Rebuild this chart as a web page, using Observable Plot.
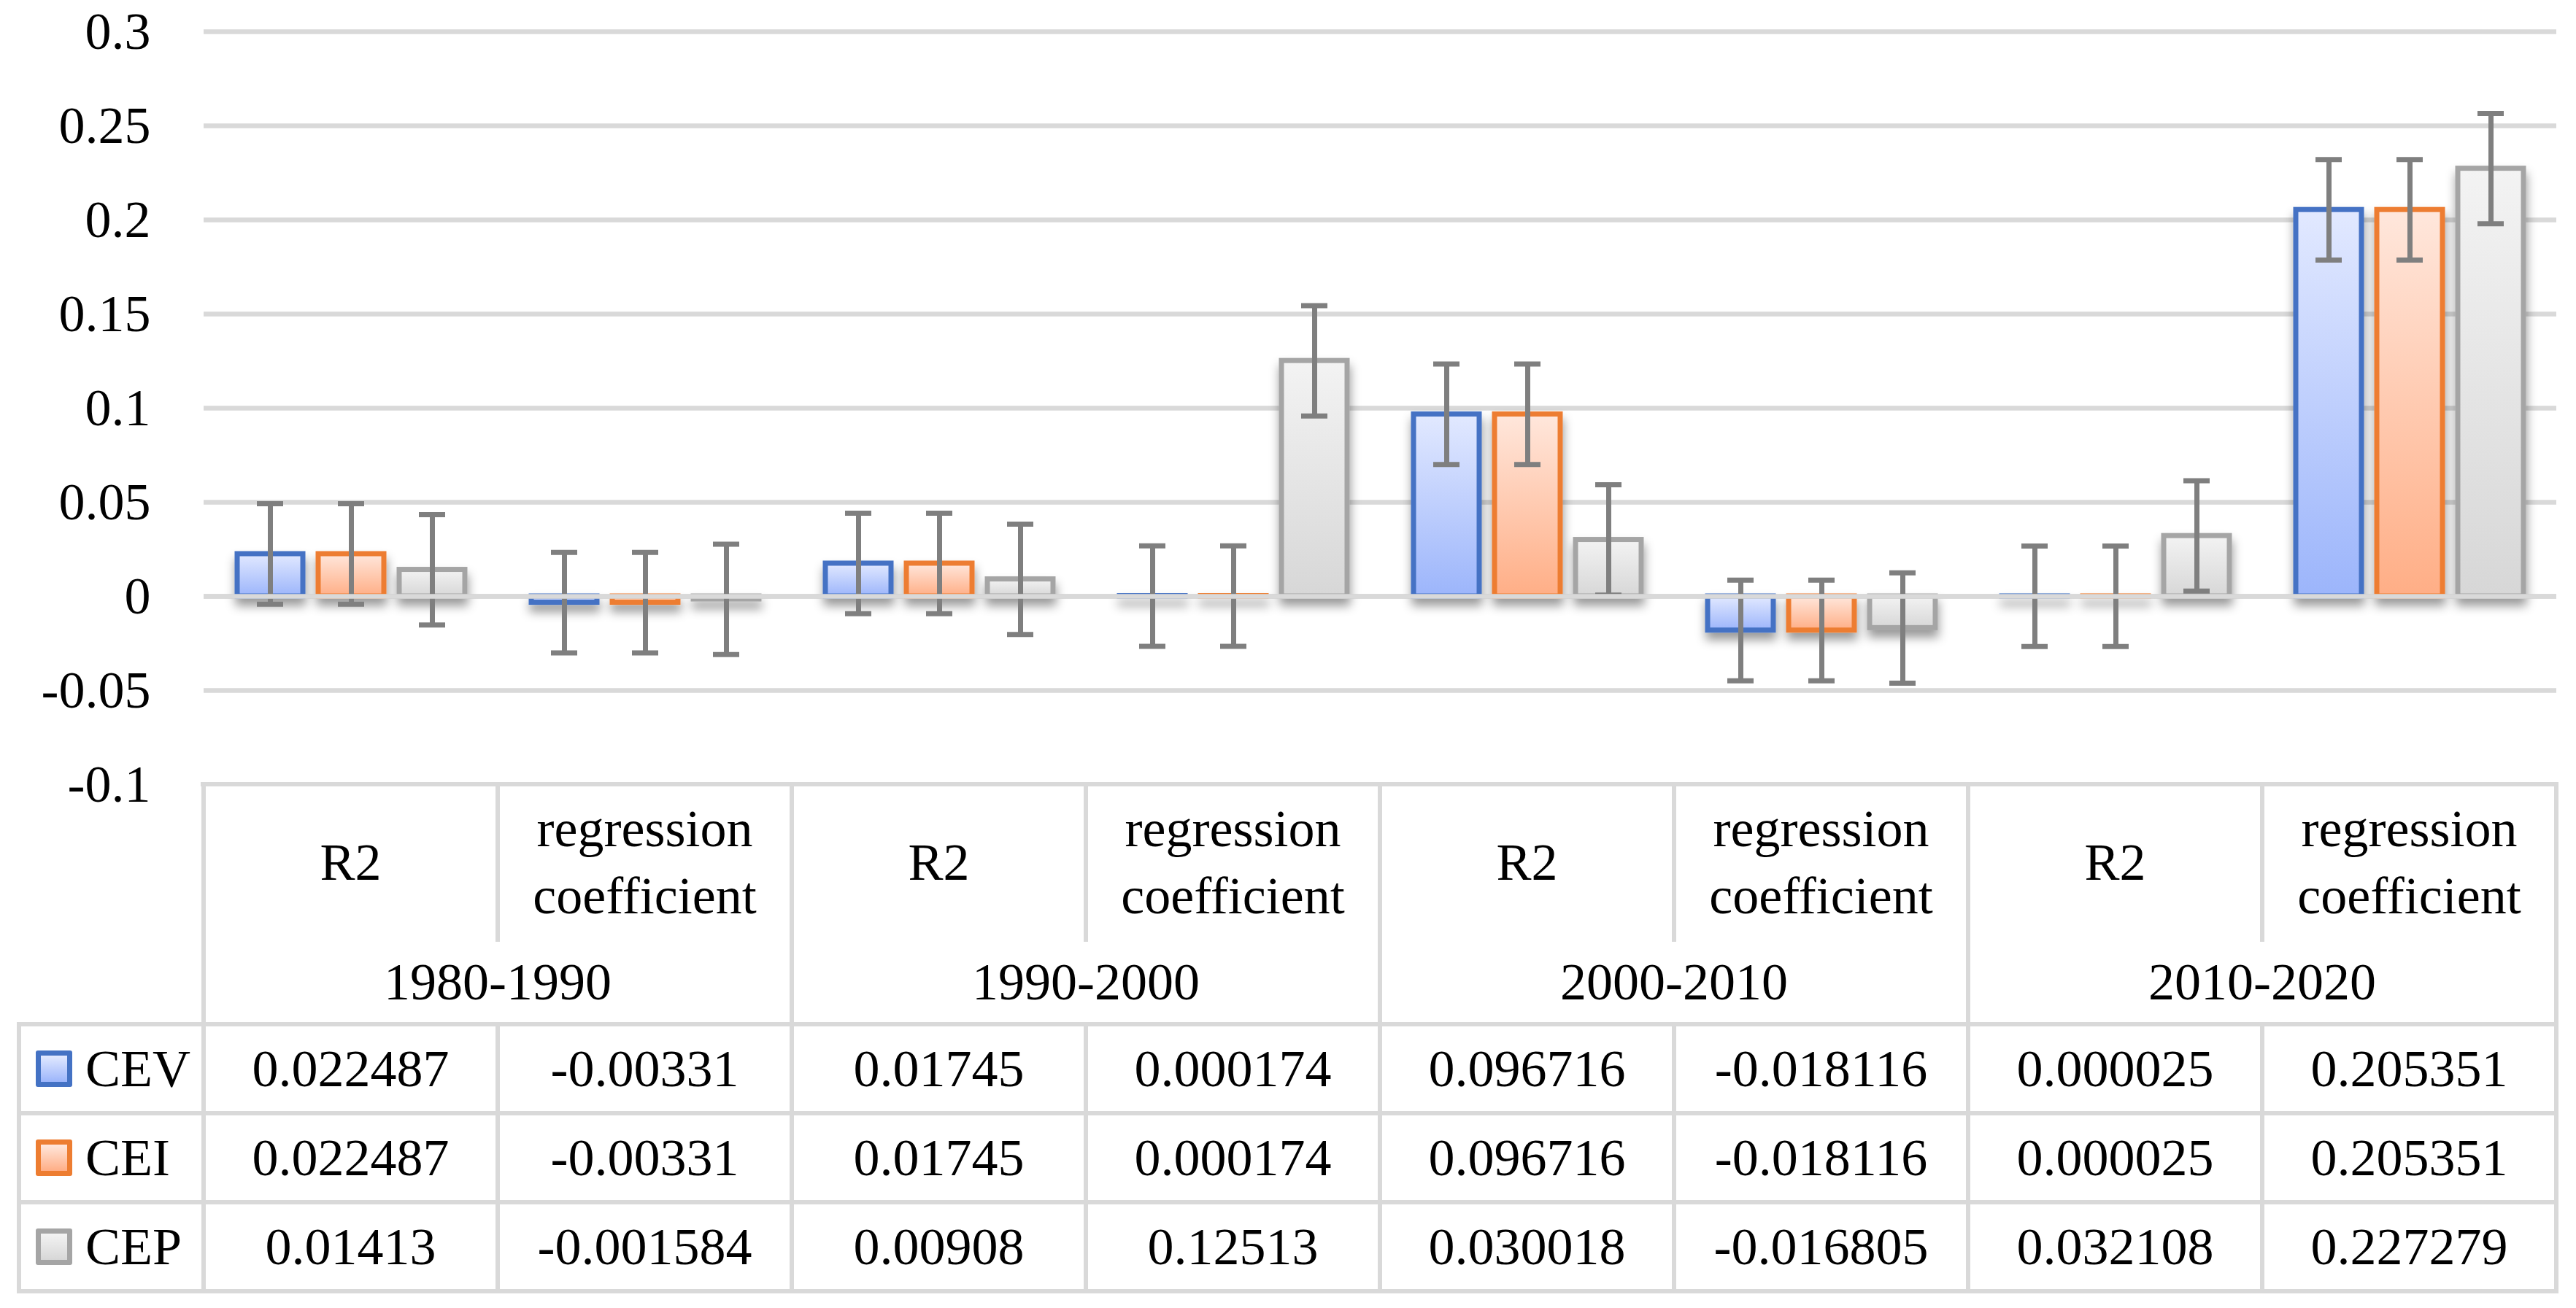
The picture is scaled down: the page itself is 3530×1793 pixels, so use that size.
<!DOCTYPE html>
<html>
<head>
<meta charset="utf-8">
<script src="https://cdn.jsdelivr.net/npm/d3@7"></script>
<script src="https://cdn.jsdelivr.net/npm/@observablehq/plot@0.6"></script>
<style>
  html, body { margin: 0; padding: 0; background: #fff; }
  #wrap { position: relative; width: 3530px; height: 1793px; font-family: "Liberation Serif", "Times New Roman", serif; color: #000; overflow: hidden; }
  #wrap svg.chart { position: absolute; left: 0; top: 0; }
  .line { position: absolute; background: #d9d9d9; }
  .cell { position: absolute; display: flex; align-items: center; justify-content: center; text-align: center; font-size: 72px; line-height: 92px; box-sizing: border-box; padding: 0 20px; }
  .legendcell { justify-content: flex-start; padding-left: 23px; }
  .swatch { width: 50px; height: 50px; box-sizing: border-box; border: 7px solid; border-radius: 3px; margin-right: 18px; flex: none; }
</style>
</head>
<body>
<svg width="0" height="0" style="position:absolute">
  <defs>
    <linearGradient id="grad-CEV" x1="0" y1="0" x2="0" y2="1">
      <stop offset="0" stop-color="#e2e9ff"/><stop offset="1" stop-color="#9cb5fb"/>
    </linearGradient>
    <linearGradient id="grad-CEI" x1="0" y1="0" x2="0" y2="1">
      <stop offset="0" stop-color="#ffe7dc"/><stop offset="1" stop-color="#ffae86"/>
    </linearGradient>
    <linearGradient id="grad-CEP" x1="0" y1="0" x2="0" y2="1">
      <stop offset="0" stop-color="#f3f3f3"/><stop offset="1" stop-color="#d7d7d7"/>
    </linearGradient>
    <filter id="barShadow" filterUnits="userSpaceOnUse" x="-3000" y="-3000" width="9000" height="7000">
      <feDropShadow dx="1" dy="10" stdDeviation="7" flood-color="#000" flood-opacity="0.4"/>
    </filter>
  </defs>
</svg>
<div id="wrap"></div>
<script>
// ---- data ----
const periods = ["1980-1990", "1990-2000", "2000-2010", "2010-2020"];
const measures = ["R2", "regression coefficient"];
const seriesNames = ["CEV", "CEI", "CEP"];
const valuesCEV = [0.022487, -0.00331, 0.01745, 0.000174, 0.096716, -0.018116, 0.000025, 0.205351];
const valuesCEI = [0.022487, -0.00331, 0.01745, 0.000174, 0.096716, -0.018116, 0.000025, 0.205351];
const valuesCEP = [0.01413, -0.001584, 0.00908, 0.12513, 0.030018, -0.016805, 0.032108, 0.227279];
const errorAmounts = [0.0267, 0.0267, 0.0293];
const yTicks = [-0.1, -0.05, 0, 0.05, 0.1, 0.15, 0.2, 0.25, 0.3];

// ---- styles ----
const strokeColors = ["#4472C4", "#ED7D31", "#A5A5A5"];
const gradientCss = [
  "linear-gradient(#e2e9ff, #9cb5fb)",
  "linear-gradient(#ffe7dc, #ffae86)",
  "linear-gradient(#f3f3f3, #d7d7d7)"
];

const categories = periods.flatMap(p => measures.map(m => ({period: p, measure: m, key: p + "|" + m})));
const seriesValues = [valuesCEV, valuesCEI, valuesCEP];
const data = seriesNames.flatMap((s, si) => categories.map((c, ci) => ({
  series: s, key: c.key, value: seriesValues[si][ci], err: errorAmounts[si]
})));

const W = 3530, mL = 278, mR = 27, mT = 43, mB = 45, plotBottom = 1075;

const chart = Plot.plot({
  width: W,
  height: plotBottom + mB,
  marginLeft: mL, marginRight: mR, marginTop: mT, marginBottom: mB,
  style: {fontFamily: "Liberation Serif, serif", fontSize: "72px", color: "#000", background: "transparent", overflow: "visible"},
  fx: {domain: categories.map(c => c.key), padding: 0, axis: null},
  x: {domain: seriesNames, paddingInner: 0.193, paddingOuter: 0.404, axis: null},
  y: {domain: [-0.1, 0.3]},
  marks: [
    Plot.gridY(yTicks.filter(t => t !== -0.1), {stroke: "#d9d9d9", strokeOpacity: 1, strokeWidth: 6.7}),
    Plot.axisY(yTicks, {tickSize: 0, tickPadding: 73, tickFormat: d => String(d), fontSize: 72, label: null}),
    ...seriesNames.map((s, i) => Plot.barY(data.filter(d => d.series === s), {
      fx: "key", x: "series", y: "value",
      fill: `url(#grad-${s})`, stroke: strokeColors[i], strokeWidth: 7
    })),
    Plot.ruleX(data, {fx: "key", x: "series", y1: d => d.value - d.err, y2: d => d.value + d.err, stroke: "#7f7f7f", strokeWidth: 7}),
    Plot.tickY(data, {fx: "key", x: "series", y: d => d.value + d.err, stroke: "#7f7f7f", strokeWidth: 7, insetLeft: 27, insetRight: 27}),
    Plot.tickY(data, {fx: "key", x: "series", y: d => d.value - d.err, stroke: "#7f7f7f", strokeWidth: 7, insetLeft: 27, insetRight: 27}),
    Plot.ruleY([0], {stroke: "#d9d9d9", strokeWidth: 6.7})
  ]
});
chart.classList.add("chart");
d3.select(chart).selectAll('g[aria-label="bar"]').attr("filter", "url(#barShadow)");

const wrap = document.getElementById("wrap");
wrap.appendChild(chart);

// ---- data table below the chart, aligned on the fx scale ----
const fxS = chart.scale("fx");
const yS = chart.scale("y");
const step = (W - mL - mR) / categories.length;
const colLeft = (i) => {
  const v = fxS && fxS.apply ? fxS.apply(categories[i].key) : undefined;
  return (v === undefined || isNaN(v)) ? mL + i * step : v;
};
const colW = fxS && fxS.bandwidth ? fxS.bandwidth : step;
const tableRight = colLeft(categories.length - 1) + colW;
const top0 = yS && yS.apply ? yS.apply(-0.1) : plotBottom;
const headH = 213, periodH = 116, rowH = 122;
const yHeadEnd = top0 + headH;
const yPeriodEnd = yHeadEnd + periodH;
const rowTops = seriesNames.map((s, i) => yPeriodEnd + i * rowH);
const tableBottom = yPeriodEnd + seriesNames.length * rowH;
const legendLeft = 26;
const lw = 6.3;

const root = d3.select(wrap);
function hline(x1, x2, y) {
  root.append("div").attr("class", "line")
    .style("left", (x1 - lw / 2) + "px").style("top", (y - lw / 2) + "px")
    .style("width", (x2 - x1 + lw) + "px").style("height", lw + "px");
}
function vline(x, y1, y2) {
  root.append("div").attr("class", "line")
    .style("left", (x - lw / 2) + "px").style("top", (y1 - lw / 2) + "px")
    .style("width", lw + "px").style("height", (y2 - y1 + lw) + "px");
}
function cell(x, y, w, h, text, cls) {
  return root.append("div").attr("class", "cell" + (cls ? " " + cls : ""))
    .style("left", x + "px").style("top", y + "px")
    .style("width", w + "px").style("height", h + "px")
    .text(text);
}

// borders
hline(mL, tableRight, top0);
hline(legendLeft, tableRight, yPeriodEnd);
rowTops.forEach((t, i) => hline(legendLeft, tableRight, t + rowH));
vline(legendLeft, yPeriodEnd, tableBottom);
for (let i = 0; i <= categories.length; i++) {
  const x = i < categories.length ? colLeft(i) : tableRight;
  if (i % measures.length === 0) {
    vline(x, top0, tableBottom);
  } else {
    vline(x, top0, yHeadEnd);
    vline(x, yPeriodEnd, tableBottom);
  }
}

// header cells
categories.forEach((c, i) => cell(colLeft(i), top0, colW, headH, c.measure));
periods.forEach((p, pi) => cell(colLeft(pi * measures.length), yHeadEnd, colW * measures.length, periodH, p));

// legend + value rows
seriesNames.forEach((s, si) => {
  const lc = root.append("div").attr("class", "cell legendcell")
    .style("left", legendLeft + "px").style("top", rowTops[si] + "px")
    .style("width", (mL - legendLeft) + "px").style("height", rowH + "px");
  lc.append("div").attr("class", "swatch")
    .style("border-color", strokeColors[si]).style("background", gradientCss[si]);
  lc.append("span").text(s);
  seriesValues[si].forEach((v, ci) => cell(colLeft(ci), rowTops[si], colW, rowH, String(v)));
});
</script>
</body>
</html>
